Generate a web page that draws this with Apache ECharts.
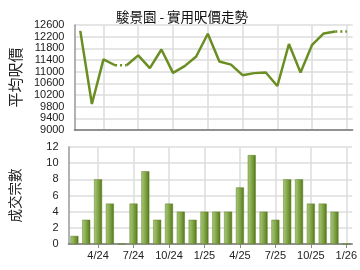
<!DOCTYPE html>
<html><head><meta charset="utf-8">
<script src="https://cdn.jsdelivr.net/npm/echarts@6/dist/echarts.min.js"></script>
<style>html,body{margin:0;padding:0;background:#fff}#c{width:360px;height:270px}</style>
</head><body><div id="c"></div>
<script>
var months = ['2/24','3/24','4/24','5/24','6/24','7/24','8/24','9/24','10/24','11/24','12/24','1/25','2/25','3/25','4/25','5/25','6/25','7/25','8/25','9/25','10/25','11/25','12/25','1/26'];
var price = [12400, 9890, 11420, 11220, 11220, 11560, 11120, 11760, 10960, 11190, 11520, 12300, 11350, 11240, 10880, 10950, 10970, 10510, 11950, 10970, 11920, 12310, 12380, 12380];
var deals = [1, 3, 8, 5, 0, 5, 9, 3, 5, 4, 3, 4, 4, 4, 7, 11, 4, 3, 8, 8, 5, 5, 4, 0];
var shownLabels = ['4/24','7/24','10/24','1/25','4/25','7/25','10/25','1/26'];
var title = '駿景園 - 實用呎價走勢';

var lineColor = '#6b8e23';
var font = 'Liberation Sans, Arial, sans-serif';
var gridColor = '#dcdcdc';

var series = [];
function emptyArr(){ return months.map(function(){ return null; }); }
var run = null;
for (var i = 0; i < months.length - 1; i++) {
  var dotted = deals[i+1] === 0;
  if (dotted) {
    if (run) { series.push(run); run = null; }
    var d = emptyArr(); d[i] = price[i]; d[i+1] = price[i+1];
    series.push({type:'line', xAxisIndex:0, yAxisIndex:0, data:d, symbol:'none', silent:true,
      lineStyle:{color:lineColor, width:2.5, type:[2,3]}});
  } else {
    if (!run) { run = {type:'line', xAxisIndex:0, yAxisIndex:0, data:emptyArr(), symbol:'none', silent:true,
      lineStyle:{color:lineColor, width:2.5}}; }
    run.data[i] = price[i]; run.data[i+1] = price[i+1];
  }
}
if (run) series.push(run);

series.push({type:'bar', xAxisIndex:1, yAxisIndex:1, data:deals, barWidth:8, silent:true,
  itemStyle:{color:new echarts.graphic.LinearGradient(0,0,1,0,[
    {offset:0,color:'#a9c77a'},{offset:0.35,color:'#8fb158'},{offset:0.75,color:'#6c9030'},{offset:1,color:'#4f7116'}]),
    borderColor:'#5f8226', borderWidth:0.5}});

function isShown(idx, v){ return shownLabels.indexOf(v) >= 0; }
function xAxis(gi){
  return {type:'category', gridIndex:gi, data:months, boundaryGap:true,
    axisLine:{show:true, lineStyle:{color:'#777', width:1.5}},
    axisTick:{show:gi===1, alignWithLabel:true, length:4, lineStyle:{color:'#888'}, interval:isShown},
    axisLabel:{show:gi===1, color:'#222', fontSize:11, fontFamily:font, margin:6, interval:isShown},
    splitLine:{show:true, alignWithLabel:true, lineStyle:{color:gridColor, width:1.5}, interval:isShown}
  };
}
function yAxis(gi, min, max, interval, name, nameSize){
  return {type:'value', gridIndex:gi, min:min, max:max, interval:interval,
    name:name, nameLocation:'middle', nameGap:47, nameRotate:90,
    nameTextStyle:{color:'#222', fontSize:nameSize, fontFamily:'Noto Sans CJK TC, sans-serif'},
    axisLine:{show:true, lineStyle:{color:'#999', width:1.5}},
    axisTick:{show:false},
    axisLabel:{color:'#222', fontSize:11, fontFamily:font, margin:10,
      formatter:function(v){ return String(v); }},
    splitLine:{show:true, lineStyle:{color:gridColor, width:1.5}}
  };
}

var chart = echarts.init(document.getElementById('c'), null, {renderer:'canvas'});
chart.setOption({
  animation:false,
  backgroundColor:'#fff',
  title:{text:title, left:177, top:5, textAlign:'center',
    textStyle:{color:'#111', fontSize:13.5, fontWeight:'normal', fontFamily:'Noto Sans CJK TC, sans-serif'}},
  grid:[
    {left:67.7, right:7.3, top:25, height:105},
    {left:67.7, right:7.3, top:147, height:97}
  ],
  xAxis:[xAxis(0), xAxis(1)],
  yAxis:[yAxis(0, 9000, 12600, 400, '平均呎價', 15), yAxis(1, 0, 12, 2, '成交宗數', 13.5)],
  series:series
});
</script></body></html>
